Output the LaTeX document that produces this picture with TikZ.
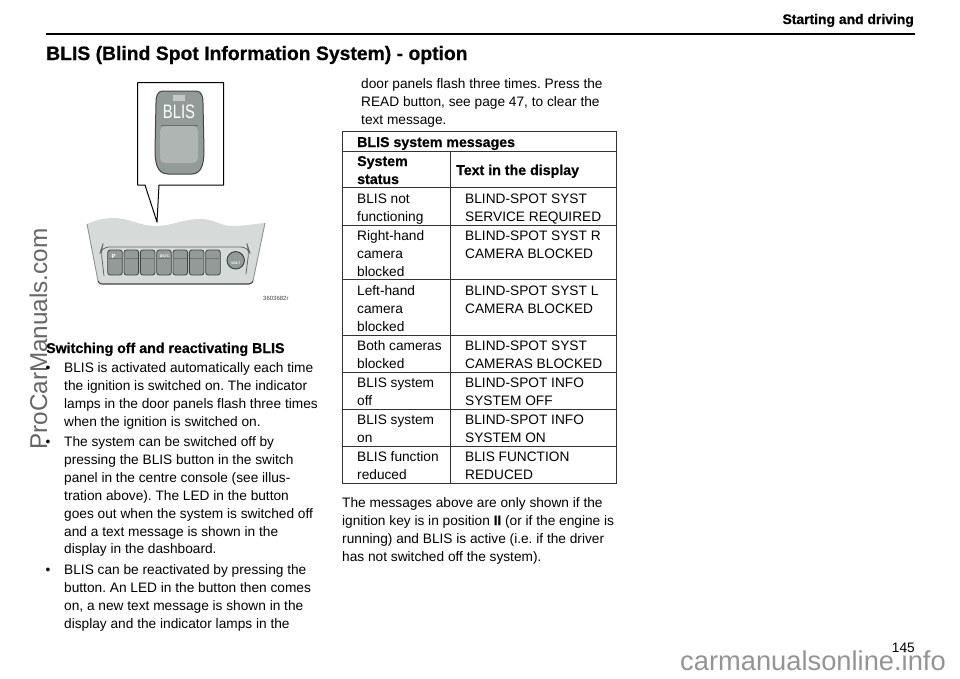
\documentclass[tikz,border=0pt]{standalone}
\usepackage{fontspec}
\setmainfont{Liberation Sans}
\newfontfamily\heavyfont[FakeBold=0.6]{Liberation Sans Bold}
\definecolor{cons}{HTML}{D6DBD9}
\definecolor{consedge}{HTML}{8C9491}
\definecolor{btn}{HTML}{939B98}
\definecolor{btnlow}{HTML}{AEB5B2}
\definecolor{btndark}{HTML}{3F4543}
\tikzset{
 x=1pt,y=-1pt,
 txt/.style={anchor=base west,inner sep=0pt,font=\fontsize{13.7}{17}\selectfont},
 bld/.style={anchor=base west,inner sep=0pt,font=\fontsize{14.2}{17}\selectfont\heavyfont},
 rule/.style={line width=0.9pt,draw=black!80},
 key/.style={draw=btndark,fill=btn,rounded corners=2.5pt,line width=0.8pt},
 tiny/.style={inner sep=0pt,text=white,font=\fontsize{3.6}{4}\selectfont\bfseries},
}
\begin{document}
\frenchspacing
\begin{tikzpicture}
\useasboundingbox (0,0) rectangle (960,678);
\node[rotate=90,anchor=base west,inner sep=0pt,text=black!60,font=\fontsize{24.3}{28}\selectfont] (wm) at (47,450) {ProCarManuals.com};
\node[anchor=base west,inner sep=0pt,text=black!42,font=\fontsize{27.3}{30}\selectfont] (wm2) at (680,670) {carmanualsonline.info};
\node[anchor=base east,inner sep=0pt,font=\fontsize{13.9}{16}\selectfont\heavyfont] (hdr) at (914,24) {Starting and driving};
\draw[line width=2pt] (46,34.4) -- (915,34.4);
\node[anchor=base west,inner sep=0pt,font=\fontsize{19.35}{22}\selectfont\heavyfont] (title) at (46,60) {BLIS (Blind Spot Information System) - option};
% console
\fill[cons] (87,224) .. controls (96,220) and (105,218) .. (113,218) .. controls (130,218) and (140,226) .. (155,226) .. controls (172,226) and (183,219) .. (200,219) .. controls (215,219) and (220,226) .. (232,226) .. controls (243,226) and (254,224) .. (265,223) -- (253,281) .. controls (252,283) .. (249,284) -- (104,284) .. controls (100,284) .. (98,281) -- cycle;
\draw[consedge,line width=0.9pt] (87,224) -- (98,281);
\draw[consedge,line width=0.9pt] (265,223) -- (253,281);
\draw[btndark,line width=1.1pt] (98,281) .. controls (100,284) .. (104,284) -- (249,284) .. controls (252,283) .. (253,281);
\draw[black!60,line width=0.8pt,rounded corners=7pt] (104,276) -- (101,250) -- (102,247) -- (248,247) -- (249,250) -- (246,274);
\foreach \i in {0,...,6}{
 \draw[key] ({107.7+16.33*\i},250) rectangle ({122.3+16.33*\i},275);
 \draw[black!55,line width=0.5pt] ({108.5+16.33*\i},258) -- ({121.5+16.33*\i},258);
}
\node[tiny,font=\fontsize{6}{6}\selectfont\bfseries] (kp) at (113.5,256) {P};
\node[tiny] (kd) at (164.7,256) {DSTC};
\draw[btndark,fill=btn,line width=1pt] (235.7,260.3) circle (8.7);
\node[tiny] (kv) at (235.7,263) {VOLT};
\node[inner sep=0pt,anchor=base west,font=\fontsize{6}{6}\selectfont,black!75] (code) at (263,300) {3603682r};
% callout
\draw[line width=1pt,fill=white,line join=round] (137.7,82.7) -- (223.7,82.7) -- (223.7,185) -- (159,185) -- (157,222) -- (145,185) -- (137.7,185) -- cycle;
\draw[btndark,fill=btn,line width=1pt] (163,91) .. controls (157,91) and (156,97) .. (156,103) -- (155,150) .. controls (155,160) and (156,174) .. (168,174) -- (192,174) .. controls (203,174) and (204,160) .. (204,150) -- (203,103) .. controls (203,97) and (202,91) .. (196,91) -- cycle;
\fill[btnlow,rounded corners=5pt] (160,126) -- (198,126) -- (198,163) -- (160,163) -- cycle;
\draw[black!58,line width=1.8pt] (160.5,125.5) -- (197.5,125.5);
\fill[black!22] (173,95) rectangle (185,100.5);
\node[inner sep=0pt,white,xscale=.76,font=\fontsize{19.5}{20}\selectfont] (bl) at (179,111.5) {BLIS};
% left column
\node[bld] (h1) at (46,353) {Switching off and reactivating BLIS};
\foreach \y/\t in {
 372/{BLIS is activated automatically each time},
 390/{the ignition is switched on. The indicator},
 408/{lamps in the door panels flash three times},
 426/{when the ignition is switched on.},
 446/{The system can be switched off by},
 464/{pressing the BLIS button in the switch},
 482/{panel in the centre console (see illus-},
 500/{tration above). The LED in the button},
 518/{goes out when the system is switched off},
 536/{and a text message is shown in the},
 553/{display in the dashboard.},
 574/{BLIS can be reactivated by pressing the},
 592/{button. An LED in the button then comes},
 610/{on, a new text message is shown in the},
 628/{display and the indicator lamps in the}}
 {\node[txt] at (64,\y) {\t};}
\foreach \y in {372,446,574} {\node[txt] at (45.5,\y) {•};}
% right column top
\foreach \y/\t in {88/{door panels flash three times. Press the},106/{READ button, see page 47, to clear the},124/{text message.}}
 {\node[txt] at (361,\y) {\t};}
% table
\draw[rule] (342.7,131) rectangle (616,483);
\foreach \y in {151,187.7,225,279.5,335,372,409,446} {\draw[rule] (342.7,\y) -- (616,\y);}
\draw[rule] (450.7,151) -- (450.7,483);
\node[bld] at (357,147) {BLIS system messages};
\node[bld] at (357,166) {System};
\node[bld] at (357,184) {status};
\node[bld] at (456,175) {Text in the display};
\foreach \y/\t in {
 203/{BLIS not},221/{functioning},
 240/{Right-hand},258/{camera},276/{blocked},
 295/{Left-hand},313/{camera},331/{blocked},
 350/{Both cameras},368/{blocked},
 387/{BLIS system},405/{off},
 424/{BLIS system},442/{on},
 461/{BLIS function},479/{reduced}}
 {\node[txt] at (357,\y) {\t};}
\foreach \y/\t in {
 203/{BLIND-SPOT SYST},221/{SERVICE REQUIRED},
 240/{BLIND-SPOT SYST R},258/{CAMERA BLOCKED},
 295/{BLIND-SPOT SYST L},313/{CAMERA BLOCKED},
 350/{BLIND-SPOT SYST},368/{CAMERAS BLOCKED},
 387/{BLIND-SPOT INFO},405/{SYSTEM OFF},
 424/{BLIND-SPOT INFO},442/{SYSTEM ON},
 461/{BLIS FUNCTION},479/{REDUCED}}
 {\node[txt] at (465,\y) {\t};}
\foreach \y/\t in {
 507/{The messages above are only shown if the},
 525/{ignition key is in position {\heavyfont II} (or if the engine is},
 543/{running) and BLIS is active (i.e. if the driver},
 561/{has not switched off the system).}}
 {\node[txt] at (342,\y) {\t};}
\node[anchor=base east,inner sep=0pt,font=\fontsize{13.7}{17}\selectfont] (pg) at (915,652) {145};
\end{tikzpicture}
\end{document}
